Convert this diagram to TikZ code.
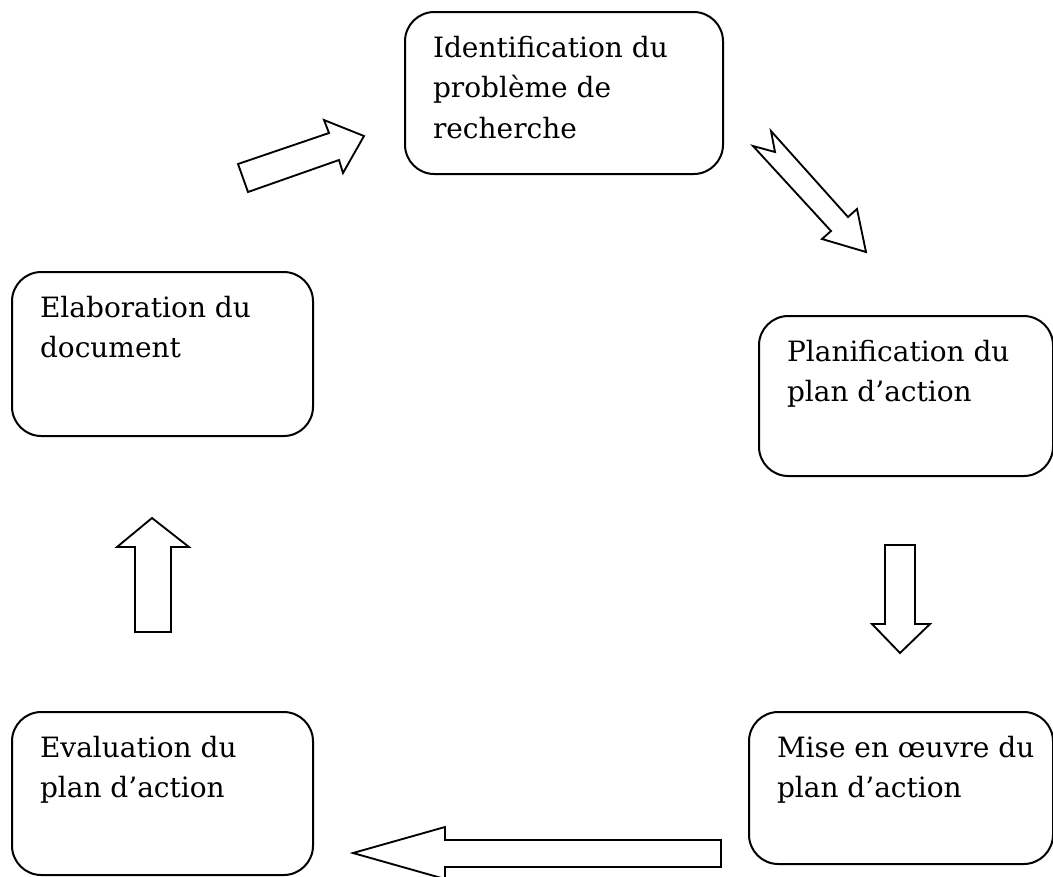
\documentclass[tikz,border=0pt]{standalone}
\usepackage{fontspec}
\setmainfont{DejaVu Serif}
\usepackage{tikz}
\usetikzlibrary{positioning}
\newcommand{\stagetext}[3]{\parbox[t][#2][t]{#1}{\leftskip=21pt\fontsize{21pt}{30.5pt}\selectfont\rule{0pt}{33.75pt}#3}}
\tikzset{
    px/.style={x=0.75pt, y=-0.75pt},
    stage/.style={rectangle, rounded corners=22pt, draw=black, line width=1.5pt, inner sep=0pt, anchor=north west},
    blockarrow/.style={draw=black, fill=white, line width=1.4pt, line join=miter},
}

\begin{document}
\begin{tikzpicture}[px]
    \useasboundingbox (0,0) rectangle (1053,876);
    \node[stage] (ident) at (404,11) {\stagetext{238.5pt}{121.5pt}{Identification du\\problème de\\recherche}};
    \node[stage] (planif) at (758,315) {\stagetext{220.5pt}{120pt}{Planification du\\plan d’action}};
    \node[stage] (mise) at (748,711) {\stagetext{228pt}{114pt}{Mise en œuvre du\\plan d’action}};
    \node[stage] (evalu) at (11,711) {\stagetext{225.75pt}{122.25pt}{Evaluation du\\plan d’action}};
    \node[stage] (elab) at (11,271) {\stagetext{225.75pt}{123pt}{Elaboration du\\document}};
    % block arrows
    \draw[blockarrow] (238,164) -- (329,133) -- (324,120) -- (364,136) -- (343,173) -- (339,160) -- (248,192) -- cycle;
    \draw[blockarrow] (771,131) -- (848,217) -- (857,209) -- (866,252) -- (822,239) -- (831,231) -- (753,146) -- (775,152) -- cycle;
    \draw[blockarrow] (885,545) -- (915,545) -- (915,624) -- (930,624) -- (900,653) -- (872,624) -- (885,624) -- cycle;
    \draw[blockarrow] (721,840) -- (445,840) -- (445,827) -- (353,853) -- (445,879) -- (445,867) -- (721,867) -- cycle;
    \draw[blockarrow] (135,632) -- (135,547) -- (117,547) -- (152,518) -- (189,547) -- (171,547) -- (171,632) -- cycle;
\end{tikzpicture}
\end{document}
